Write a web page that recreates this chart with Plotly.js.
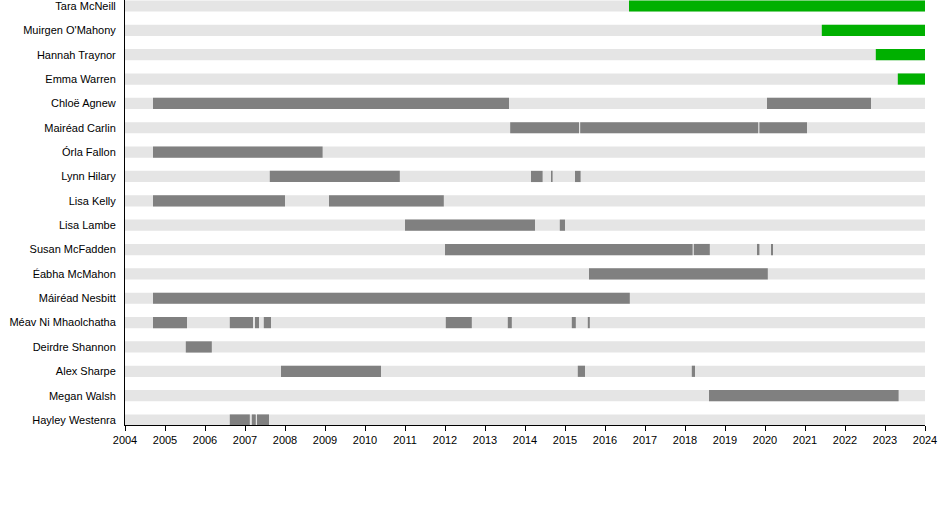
<!DOCTYPE html>
<html>
<head>
<meta charset="utf-8">
<script src="https://cdn.plot.ly/plotly-3.0.1.min.js"></script>
<style>html,body{margin:0;padding:0;background:#fff;}#chart{width:950px;height:505px;}</style>
</head>
<body>
<div id="chart"></div>
<script>
// Members, top to bottom
const members = ["Tara McNeill","Muirgen O'Mahony","Hannah Traynor","Emma Warren","Chloë Agnew","Mairéad Carlin","Órla Fallon","Lynn Hilary","Lisa Kelly","Lisa Lambe","Susan McFadden","Éabha McMahon","Máiréad Nesbitt","Méav Ni Mhaolchatha","Deirdre Shannon","Alex Sharpe","Megan Walsh","Hayley Westenra"];
const timelineStart = 2004;
const timelineEnd = 2024;

// Past membership periods
const pastMember = ["Chloë Agnew","Chloë Agnew","Mairéad Carlin","Mairéad Carlin","Mairéad Carlin","Órla Fallon","Lynn Hilary","Lynn Hilary","Lynn Hilary","Lynn Hilary","Lisa Kelly","Lisa Kelly","Lisa Lambe","Lisa Lambe","Susan McFadden","Susan McFadden","Susan McFadden","Susan McFadden","Éabha McMahon","Máiréad Nesbitt","Méav Ni Mhaolchatha","Méav Ni Mhaolchatha","Méav Ni Mhaolchatha","Méav Ni Mhaolchatha","Méav Ni Mhaolchatha","Méav Ni Mhaolchatha","Méav Ni Mhaolchatha","Méav Ni Mhaolchatha","Deirdre Shannon","Alex Sharpe","Alex Sharpe","Alex Sharpe","Megan Walsh","Hayley Westenra","Hayley Westenra","Hayley Westenra"];
const pastStart = [2004.7,2020.05,2013.63,2015.38,2019.86,2004.7,2007.62,2014.15,2014.65,2015.25,2004.7,2009.1,2011.0,2014.87,2012.0,2018.22,2019.8,2020.15,2015.6,2004.7,2004.7,2006.62,2007.25,2007.47,2012.02,2013.57,2015.17,2015.57,2005.52,2007.9,2015.32,2018.17,2018.6,2006.62,2007.17,2007.3];
const pastEnd = [2013.6,2022.65,2015.35,2019.83,2021.05,2008.94,2010.87,2014.44,2014.69,2015.39,2008.0,2011.97,2014.25,2015.0,2018.19,2018.62,2019.86,2020.2,2020.07,2016.62,2005.55,2007.2,2007.35,2007.65,2012.67,2013.67,2015.27,2015.62,2006.17,2010.4,2015.5,2018.25,2023.34,2007.12,2007.27,2007.6];

// Current members
const currentMember = ["Tara McNeill","Muirgen O'Mahony","Hannah Traynor","Emma Warren"];
const currentStart = [2016.6,2021.42,2022.77,2023.32];
const currentEnd = [2024,2024,2024,2024];

const idx = m => members.indexOf(m);
const years = [];
for (let y = timelineStart; y <= timelineEnd; y++) years.push(y);

const BW = 0.46;
const bg = {
  type: 'bar', orientation: 'h',
  y: members.map(idx),
  base: members.map(() => timelineStart),
  x: members.map(() => timelineEnd - timelineStart),
  width: BW, marker: {color: '#e5e5e5'}, hoverinfo: 'skip'
};
const past = {
  type: 'bar', orientation: 'h',
  y: pastMember.map(idx),
  base: pastStart,
  x: pastStart.map((s, i) => pastEnd[i] - s),
  width: BW, marker: {color: '#808080'}
};
const cur = {
  type: 'bar', orientation: 'h',
  y: currentMember.map(idx),
  base: currentStart,
  x: currentStart.map((s, i) => currentEnd[i] - s),
  width: BW, marker: {color: '#00b000'}
};

const layout = {
  width: 950, height: 505,
  margin: {l: 125, r: 25, t: 0, b: 80, pad: 0},
  paper_bgcolor: '#fff', plot_bgcolor: '#fff',
  barmode: 'overlay', showlegend: false,
  font: {family: 'Liberation Sans, Arial, sans-serif', size: 11, color: '#000'},
  xaxis: {
    range: [timelineStart, timelineEnd], tickvals: years, ticktext: years.map(String),
    ticks: 'outside', ticklen: 5, tickcolor: '#000', showgrid: false, zeroline: false,
    showline: true, linecolor: '#000', linewidth: 1, tickfont: {size: 11},
    ticklabeloverflow: 'allow'
  },
  yaxis: {
    range: [17.205, -0.246], tickvals: members.map(idx), ticktext: members,
    ticks: '', showgrid: false, zeroline: false, showline: true, linecolor: '#000', linewidth: 1,
    ticklabelstandoff: 6, tickfont: {size: 11}, ticklabeloverflow: 'allow'
  }
};
Plotly.newPlot('chart', [bg, past, cur], layout, {staticPlot: true, displayModeBar: false});
</script>
</body>
</html>
